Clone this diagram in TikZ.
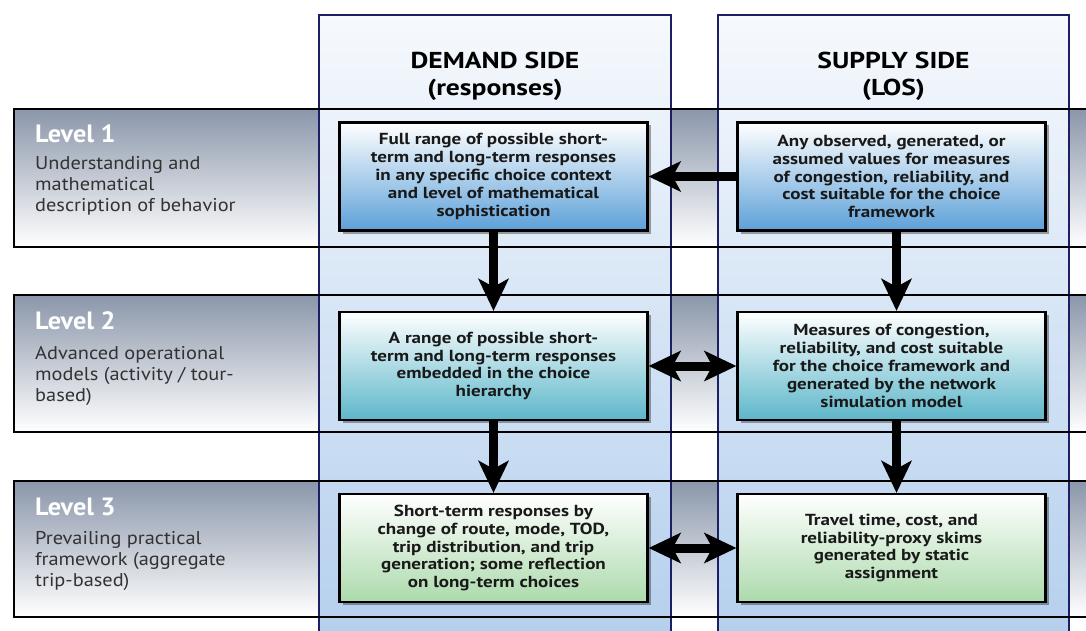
\documentclass[tikz,border=0pt]{standalone}
\usepackage{fontspec}
\setmainfont{PT Sans}
\newfontfamily\boxfnt{PT Sans}[FakeStretch=1.19]
\newfontfamily\headfnt{PT Sans}[FakeStretch=1.2]
\newfontfamily\descfnt{PT Sans}[FakeStretch=1.1]
\newfontfamily\lvlfnt{PT Sans}[FakeStretch=1.05]
\usetikzlibrary{arrows.meta,shadows}
\definecolor{bandtop}{RGB}{138,150,170}
\definecolor{coltop}{RGB}{246,249,253}
\definecolor{colbot}{RGB}{180,207,237}
\definecolor{colline}{RGB}{30,30,100}
\definecolor{blueone}{RGB}{92,160,216}
\definecolor{tealtwo}{RGB}{92,182,202}
\definecolor{greenthree}{RGB}{172,218,172}
\definecolor{txtdark}{RGB}{25,25,25}
\definecolor{lvltxt}{RGB}{50,50,50}
\tikzset{
  boxbase/.style={draw=black, line width=2.2pt, minimum width=308pt, minimum height=108pt,
    inner sep=0pt, align=center, text=txtdark,
    font=\boxfnt\bfseries\fontsize{16}{17.8}\selectfont,
    drop shadow={shadow xshift=3pt, shadow yshift=-3pt, fill=black, opacity=0.35}},
  boxone/.style={boxbase, top color=white, bottom color=blueone},
  boxtwo/.style={boxbase, top color=white, bottom color=tealtwo},
  boxthree/.style={boxbase, top color=white, bottom color=greenthree},
  bandline/.style={draw=black, line width=2.2pt},
  colborder/.style={draw=colline, line width=1.6pt},
  headtext/.style={align=center, font=\headfnt\bfseries\fontsize{23}{27}\selectfont, text=black, inner sep=0pt},
  lvltitle/.style={anchor=base west, inner sep=0pt, text=white, font=\lvlfnt\bfseries\fontsize{25}{28}\selectfont},
  lvldesc/.style={anchor=north west, inner sep=0pt, align=left, text=lvltxt, font=\descfnt\fontsize{18.5}{21}\selectfont},
  bigarrow/.style={line width=9pt, -{Stealth[length=32pt,width=30pt,inset=8pt]}},
  dblarrow/.style={line width=9pt, {Stealth[length=32pt,width=30pt,inset=8pt]}-{Stealth[length=32pt,width=30pt,inset=8pt]}},
}
\begin{document}
\begin{tikzpicture}[x=1pt,y=1pt]
\useasboundingbox (0,0) rectangle (1086,-631);
\clip (0,0) rectangle (1086,-631);
\fill[white] (0,0) rectangle (1086,-631);
% level bands
\foreach \t/\b in {109/247, 295/432, 481/617}{
  \fill[top color=bandtop, bottom color=white] (14,-\t) rectangle (1100,-\b);
}
% columns
\shade[top color=coltop, bottom color=colbot] (319,-15) rectangle (671,-640);
\shade[top color=coltop, bottom color=colbot] (718,-15) rectangle (1069,-640);
\draw[colborder] (319,-640) -- (319,-15) -- (671,-15) -- (671,-640);
\draw[colborder] (718,-640) -- (718,-15) -- (1069,-15) -- (1069,-640);
% band lines
\foreach \t/\b in {109/247, 295/432, 481/617}{
  \draw[bandline] (1100,-\t) -- (14,-\t) -- (14,-\b) -- (1100,-\b);
}
% headers
\node[headtext] (hd) at (495,-76) {DEMAND SIDE\\(responses)};
\node[headtext] (hs) at (893.5,-76) {SUPPLY SIDE\\(LOS)};
% level labels
\node[lvltitle] (l1t) at (35,-143) {Level 1};
\node[lvldesc] (l1d) at (35,-156) {Understanding and\\mathematical\\description of behavior};
\node[lvltitle] (l2t) at (35,-329) {Level 2};
\node[lvldesc] (l2d) at (35,-346) {Advanced operational\\models (activity / tour-\\based)};
\node[lvltitle] (l3t) at (35,-515) {Level 3};
\node[lvldesc] (l3d) at (35,-531) {Prevailing practical\\framework (aggregate\\trip-based)};
% boxes
\node[boxone] (d1) at (493.5,-176.5) {Full range of possible short-\\term and long-term responses\\in any specific choice context\\and level of mathematical\\sophistication};
\node[boxone] (s1) at (891.5,-176.5) {Any observed, generated, or\\assumed values for measures\\of congestion, reliability, and\\cost suitable for the choice\\framework};
\node[boxtwo] (d2) at (493.5,-366) {A range of possible short-\\term and long-term responses\\embedded in the choice\\hierarchy};
\node[boxtwo] (s2) at (891.5,-366) {Measures of congestion,\\reliability, and cost suitable\\for the choice framework and\\generated by the network\\simulation model};
\node[boxthree] (d3) at (493.5,-548) {Short-term responses by\\change of route, mode, TOD,\\trip distribution, and trip\\generation; some reflection\\on long-term choices};
\node[boxthree] (s3) at (891.5,-548) {Travel time, cost, and\\reliability-proxy skims\\generated by static\\assignment};
% arrows
\draw[bigarrow] (s1.west) -- (d1.east);
\draw[bigarrow] (d1.south) -- (d2.north);
\draw[bigarrow] (d2.south) -- (d3.north);
\draw[bigarrow] ([xshift=5pt]s1.south) -- ([xshift=5pt]s2.north);
\draw[bigarrow] ([xshift=5pt]s2.south) -- ([xshift=5pt]s3.north);
\draw[dblarrow] (d2.east) -- (s2.west);
\draw[dblarrow] (d3.east) -- (s3.west);
\end{tikzpicture}
\end{document}
